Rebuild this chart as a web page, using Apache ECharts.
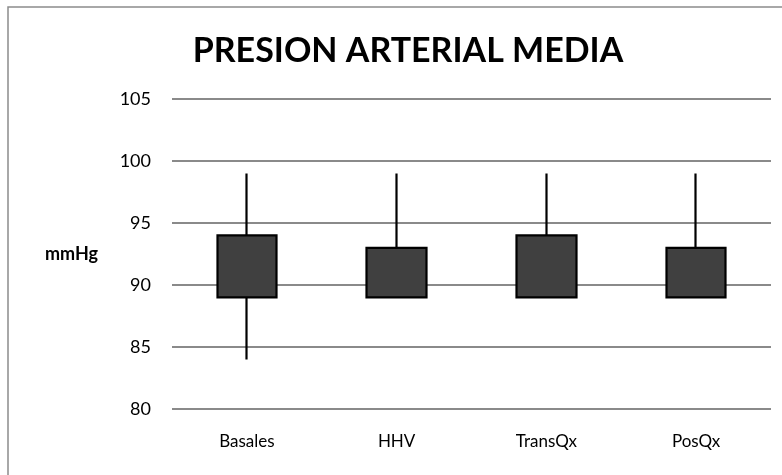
<!DOCTYPE html>
<html>
<head>
<meta charset="utf-8">
<script src="https://cdn.jsdelivr.net/npm/echarts@6/dist/echarts.min.js"></script>
<style>
  html, body { margin: 0; padding: 0; background: #fff; }
  #chart { width: 782px; height: 475px; }
</style>
</head>
<body>
<div id="chart"></div>
<script>
const categories = ['Basales', 'HHV', 'TransQx', 'PosQx'];
const openVals = [89, 89, 89, 89];
const closeVals = [94, 93, 94, 93];
const lowVals = [84, 89, 89, 89];
const highVals = [99, 99, 99, 99];
const yTicks = [80, 85, 90, 95, 100, 105];

const chart = echarts.init(document.getElementById('chart'));
const font = 'Lato, "Open Sans", sans-serif';

chart.setOption({
  animation: false,
  backgroundColor: '#fff',
  title: {
    text: 'PRESION ARTERIAL MEDIA',
    left: 403,
    textAlign: 'center',
    top: 29,
    textStyle: { fontFamily: font, fontWeight: 'bold', fontSize: 34, color: '#000' }
  },
  graphic: [{
    type: 'rect',
    shape: { x: 8, y: 7, width: 800, height: 500 },
    style: { fill: 'none', stroke: '#8c8c8c', lineWidth: 1.5 },
    silent: true
  }],
  grid: { left: 172, right: 11, top: 99, bottom: 66 },
  xAxis: {
    type: 'category',
    data: categories,
    axisLine: { show: false },
    axisTick: { show: false },
    axisLabel: { color: '#000', fontFamily: font, fontSize: 17, margin: 24 }
  },
  yAxis: {
    type: 'value',
    min: yTicks[0],
    max: yTicks[yTicks.length - 1],
    interval: 5,
    name: 'mmHg',
    nameLocation: 'middle',
    nameRotate: 0,
    nameGap: 74,
    nameTextStyle: { fontFamily: font, fontWeight: 'bold', fontSize: 18, color: '#000' },
    axisLine: { show: false },
    axisTick: { show: false },
    axisLabel: { color: '#000', fontFamily: font, fontSize: 18, margin: 21 },
    splitLine: { lineStyle: { color: '#8a8a8a', width: 1.8 } }
  },
  series: [{
    type: 'candlestick',
    barWidth: 60,
    data: categories.map((c, i) => [openVals[i], closeVals[i], lowVals[i], highVals[i]]),
    itemStyle: {
      color: '#404040',
      color0: '#404040',
      borderColor: '#000',
      borderColor0: '#000',
      borderWidth: 2.2
    }
  }]
});
</script>
</body>
</html>
